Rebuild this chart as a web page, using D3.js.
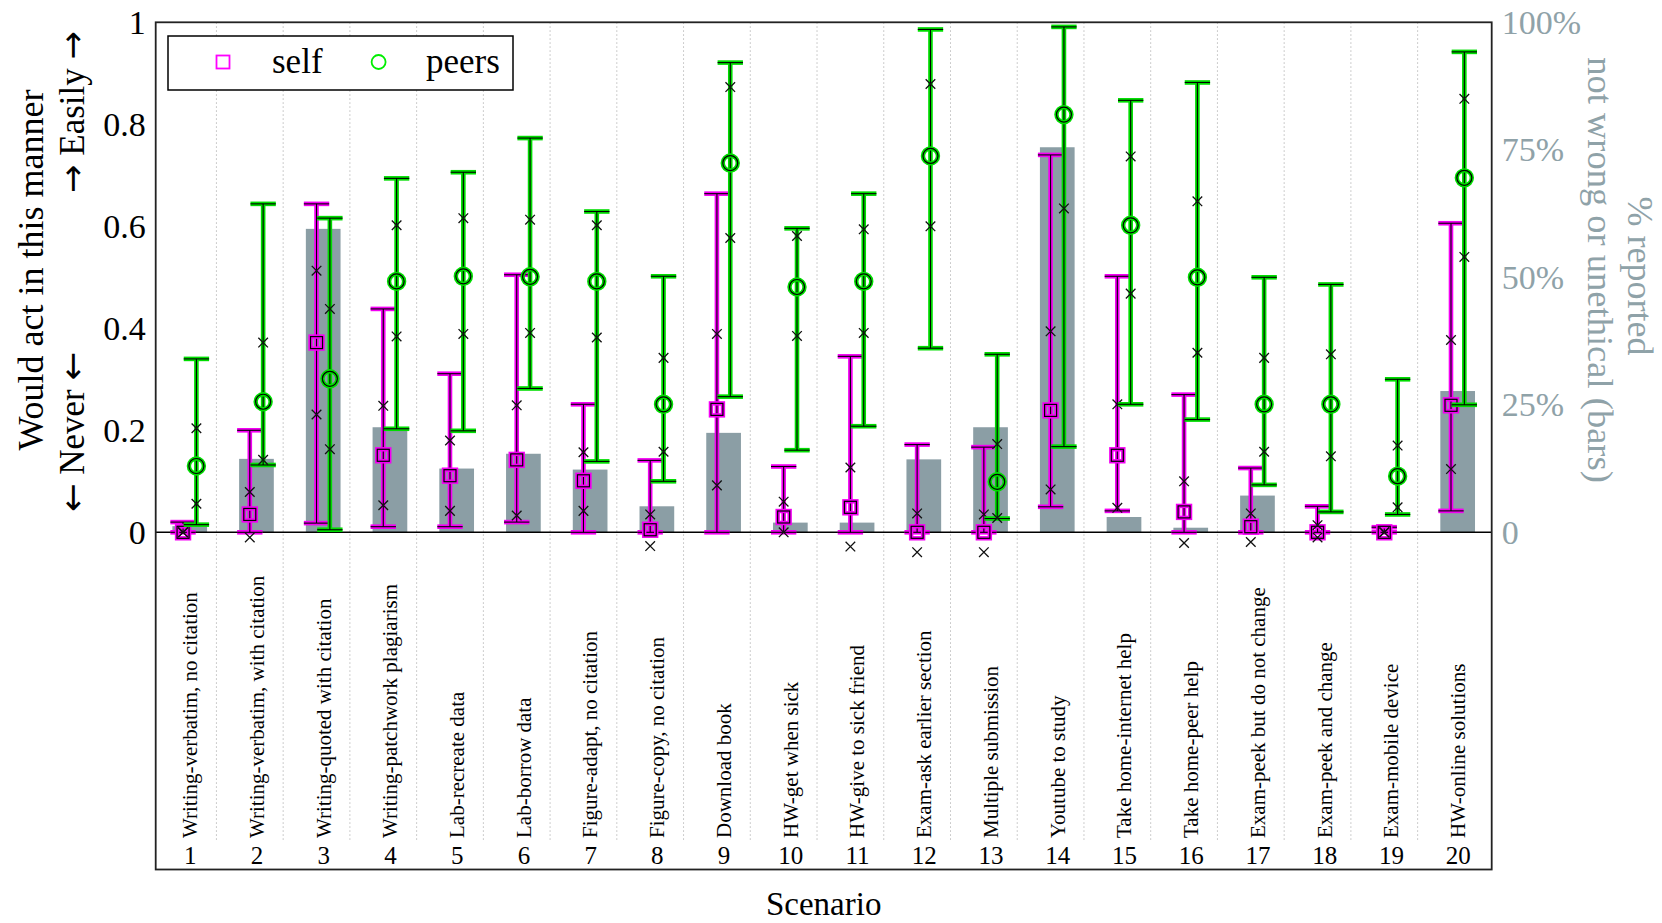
<!DOCTYPE html>
<html><head><meta charset="utf-8">
<script src="https://cdn.jsdelivr.net/npm/d3@7"></script>
<style>body{margin:0;background:#fff}svg{display:block}text{font-family:"Liberation Serif","Times New Roman",serif}</style>
</head><body><svg id="c" width="1662" height="923"></svg>
<script>
const categories = ["Writing-verbatim, no citation","Writing-verbatim, with citation","Writing-quoted with citation","Writing-patchwork plagiarism","Lab-recreate data","Lab-borrow data","Figure-adapt, no citation","Figure-copy, no citation","Download book","HW-get when sick","HW-give to sick friend","Exam-ask earlier section","Multiple submission","Youtube to study","Take home-internet help","Take home-peer help","Exam-peek but do not change","Exam-peek and change","Exam-mobile device","HW-online solutions"];
const scenarioNums = d3.range(1, 21);
const barsNotWrong = [0.012,0.144,0.595,0.206,0.125,0.154,0.123,0.051,0.195,0.019,0.019,0.143,0.206,0.755,0.030,0.009,0.072,0,0,0.277];
const selfMean = [0,0.035,0.372,0.151,0.111,0.142,0.101,0.005,0.241,0.03,0.049,0,0,0.239,0.151,0.04,0.011,0,0,0.249];
const selfLo   = [0,0,0.018,0.011,0.011,0.02,0,0,0,0,0,0,0,0.05,0.042,0,0,0,0,0.042];
const selfHi   = [0.02,0.20,0.644,0.438,0.311,0.505,0.251,0.141,0.664,0.129,0.345,0.172,0.167,0.740,0.502,0.27,0.126,0.051,0.01,0.606];
const selfX1   = [0,0.079,0.513,0.248,0.18,0.249,0.157,0.035,0.389,0.06,0.127,0.037,0.035,0.394,0.251,0.10,0.037,0.014,0,0.377];
const selfX2   = [0,-0.01,0.231,0.053,0.042,0.033,0.042,-0.027,0.092,0,-0.028,-0.039,-0.039,0.084,0.048,-0.021,-0.019,-0.01,0,0.124];
const peersMean = [0.13,0.256,0.301,0.492,0.502,0.501,0.492,0.251,0.724,0.481,0.492,0.738,0.099,0.819,0.602,0.50,0.251,0.251,0.11,0.695];
const peersLo   = [0.015,0.132,0.005,0.203,0.199,0.282,0.139,0.10,0.266,0.161,0.208,0.361,0.027,0.168,0.251,0.221,0.093,0.04,0.035,0.25];
const peersHi   = [0.34,0.644,0.616,0.694,0.706,0.773,0.629,0.502,0.921,0.596,0.664,0.986,0.349,0.991,0.847,0.882,0.50,0.486,0.30,0.942];
const peersX1   = [0.204,0.372,0.438,0.602,0.616,0.613,0.602,0.342,0.873,0.581,0.594,0.879,0.173,0.635,0.737,0.649,0.342,0.349,0.17,0.85];
const peersX2   = [0.056,0.142,0.163,0.384,0.389,0.391,0.382,0.158,0.577,0.385,0.391,0.60,0.028,null,0.468,0.352,0.158,0.149,0.049,0.54];
const leftTicks = [0,0.2,0.4,0.6,0.8,1];
const leftTickLabels = ["0","0.2","0.4","0.6","0.8","1"];
const rightTicks = [0,25,50,75,100];
const rightTickLabels = ["0","25%","50%","75%","100%"];

const svg = d3.select("#c");
const L = 155.7, R = 1491.7, T = 22.3, B = 869.5;
const x = d3.scaleLinear().domain([0.49, 20.51]).range([L, R]);
const y = d3.scaleLinear().domain([0, 1]).range([532.3, T]);
const yR = d3.scaleLinear().domain([0, 100]).range([532.3, T]);
const MAG = "#f400f4", GRN = "#00dd00", GREY = "#8b9ea5", GREYT = "#8fa2a8";

// gridlines
svg.append("g").selectAll("line").data(d3.range(1, 20)).join("line")
  .attr("x1", d => x(d + 0.4)).attr("x2", d => x(d + 0.4))
  .attr("y1", T).attr("y2", 840)
  .attr("stroke", "#bdbdbd").attr("stroke-width", 1).attr("stroke-dasharray", "1.5,2.5");

// bars
const bw = x(0.26) - x(0);
svg.append("g").selectAll("rect").data(barsNotWrong).join("rect")
  .attr("x", (d, i) => x(i + 1) - bw).attr("width", 2 * bw)
  .attr("y", d => y(d)).attr("height", d => y(0) - y(d))
  .attr("fill", GREY);

// zero line
svg.append("line").attr("x1", L).attr("x2", R).attr("y1", y(0)).attr("y2", y(0))
  .attr("stroke", "#000").attr("stroke-width", 1.5);

// legend
const lg = svg.append("g");
lg.append("rect").attr("x", 168).attr("y", 36).attr("width", 345).attr("height", 54)
  .attr("fill", "#fff").attr("stroke", "#000").attr("stroke-width", 1.5);
lg.append("rect").attr("x", 216.5).attr("y", 55.5).attr("width", 13).attr("height", 13)
  .attr("fill", "none").attr("stroke", "#ff00ff").attr("stroke-width", 1.8);
lg.append("text").attr("x", 272).attr("y", 73).attr("font-size", 35).text("self");
lg.append("circle").attr("cx", 378.6).attr("cy", 62).attr("r", 7)
  .attr("fill", "none").attr("stroke", "#00ee00").attr("stroke-width", 1.8);
lg.append("text").attr("x", 426).attr("y", 73).attr("font-size", 35).text("peers");

const capH = x(0.19) - x(0);
function series(mean, lo, hi, x1, x2, off, color, shape) {
  const g = svg.append("g");
  const idx = d3.range(20);
  const xs = i => x(i + 1 + off);
  [[color, 4.6], ["#000", 1.1]].forEach(([c, w]) => {
    g.append("g").selectAll("line").data(idx).join("line")
      .attr("x1", xs).attr("x2", xs).attr("y1", i => y(lo[i])).attr("y2", i => y(hi[i]))
      .attr("stroke", c).attr("stroke-width", w);
    [lo, hi].forEach(arr => {
      g.append("g").selectAll("line").data(idx).join("line")
        .attr("x1", i => xs(i) - capH).attr("x2", i => xs(i) + capH)
        .attr("y1", i => y(arr[i])).attr("y2", i => y(arr[i]))
        .attr("stroke", c).attr("stroke-width", w);
    });
  });
  [[color, 4.4], ["#000", 1.2]].forEach(([c, w]) => {
    if (shape === "square") {
      g.append("g").selectAll("rect").data(idx).join("rect")
        .attr("x", i => xs(i) - 6).attr("y", i => y(mean[i]) - 6)
        .attr("width", 12).attr("height", 12)
        .attr("fill", "none").attr("stroke", c).attr("stroke-width", w);
    } else {
      g.append("g").selectAll("circle").data(idx).join("circle")
        .attr("cx", xs).attr("cy", i => y(mean[i])).attr("r", 7.5)
        .attr("fill", "none").attr("stroke", c).attr("stroke-width", w);
    }
  });
  const pts = [];
  idx.forEach(i => { [x1[i], x2[i]].forEach(v => { if (v !== null) pts.push([xs(i), y(v)]); }); });
  const s = 4.8;
  g.append("g").selectAll("path").data(pts).join("path")
    .attr("d", p => `M${p[0]-s},${p[1]-s}L${p[0]+s},${p[1]+s}M${p[0]-s},${p[1]+s}L${p[0]+s},${p[1]-s}`)
    .attr("stroke", "#111").attr("stroke-width", 1.3).attr("fill", "none");
}
series(selfMean, selfLo, selfHi, selfX1, selfX2, -0.1, MAG, "square");
series(peersMean, peersLo, peersHi, peersX1, peersX2, 0.1, GRN, "circle");

// left axis
const ax = svg.append("g").attr("transform", `translate(${L},0)`)
  .call(d3.axisLeft(y).tickValues(leftTicks).tickFormat((d, i) => leftTickLabels[i]).tickSize(0).tickPadding(10));
ax.select(".domain").remove();
ax.selectAll("text").attr("font-size", 34).attr("font-family", "Liberation Serif").attr("fill", "#000");

// right axis
const ar = svg.append("g").attr("transform", `translate(${R},0)`)
  .call(d3.axisRight(yR).tickValues(rightTicks).tickFormat((d, i) => rightTickLabels[i]).tickSize(0).tickPadding(10));
ar.select(".domain").remove();
ar.selectAll("text").attr("font-size", 34).attr("font-family", "Liberation Serif").attr("fill", GREYT);

// bottom numbers
const ab = svg.append("g").call(d3.axisBottom(x).tickValues(scenarioNums).tickFormat(d3.format("d")).tickSize(0));
ab.select(".domain").remove();
ab.selectAll("text").attr("y", 864).attr("dy", null).attr("font-size", 25).attr("font-family", "Liberation Serif").attr("fill", "#000");

// category names
svg.append("g").selectAll("text").data(categories).join("text")
  .attr("transform", (d, i) => `translate(${x(i + 1)},838) rotate(-90)`)
  .attr("dy", "0.35em").attr("font-size", 21).attr("text-anchor", "start").text(d => d);

// border
svg.append("rect").attr("x", L).attr("y", T).attr("width", R - L).attr("height", B - T)
  .attr("fill", "none").attr("stroke", "#222").attr("stroke-width", 1.8);

// titles
svg.append("text").attr("transform", "translate(43,270) rotate(-90)").attr("text-anchor", "middle")
  .attr("font-size", 36).text("Would act in this manner");
function arrowTitle(tx, ty, arrow, word) {
  const t = svg.append("text").attr("transform", `translate(${tx},${ty}) rotate(-90)`)
    .attr("text-anchor", "middle").attr("font-size", 35);
  t.append("tspan").attr("font-family", "DejaVu Sans").attr("font-size", 34).text(arrow);
  t.append("tspan").text(" " + word + " ");
  t.append("tspan").attr("font-family", "DejaVu Sans").attr("font-size", 34).text(arrow);
}
arrowTitle(84, 432, "←", "Never");
arrowTitle(84, 112, "→", "Easily");
svg.append("text").attr("transform", "translate(1628,276) rotate(90)").attr("text-anchor", "middle")
  .attr("font-size", 36).attr("fill", GREYT).text("% reported");
svg.append("text").attr("transform", "translate(1588,270) rotate(90)").attr("text-anchor", "middle")
  .attr("font-size", 36.5).attr("fill", GREYT).text("not wrong or unethical (bars)");
svg.append("text").attr("x", (L + R) / 2).attr("y", 915).attr("text-anchor", "middle")
  .attr("font-size", 33).text("Scenario");
</script></body></html>
